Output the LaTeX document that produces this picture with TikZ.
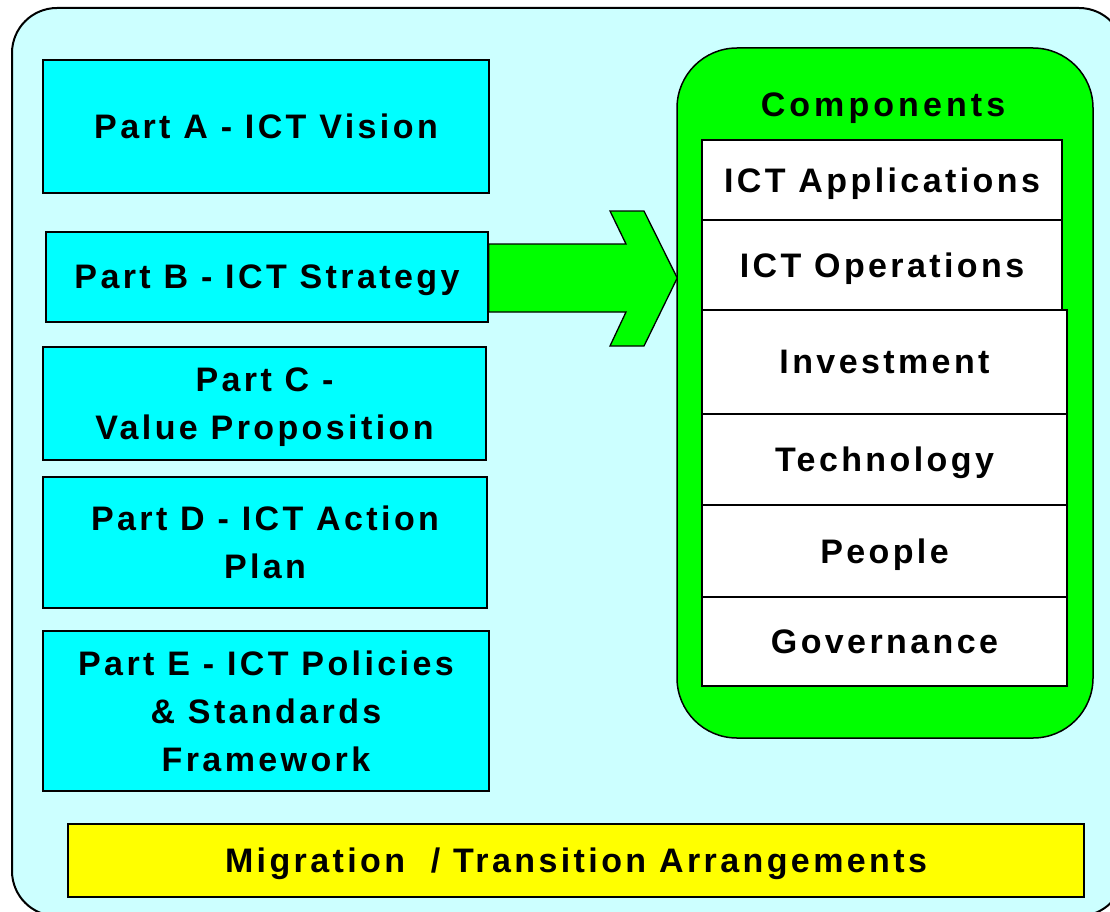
\documentclass[tikz,border=0pt]{standalone}
\usepackage{fontspec}
\setmainfont{Liberation Sans}
\newfontfamily\lblfont{Liberation Sans}[LetterSpace=10]
\definecolor{bgcyan}{HTML}{CCFFFF}
\definecolor{partcyan}{HTML}{00FFFF}
\definecolor{compgreen}{HTML}{00FF00}
\definecolor{migyellow}{HTML}{FFFF00}
\begin{document}
\begin{tikzpicture}[x=1pt,y=-1pt,
  lbl/.style={font=\lblfont\bfseries\fontsize{34}{48}\selectfont, align=center, inner sep=0pt, text depth=0pt},
  partbox/.style={lbl, draw=black, line width=1.5pt, fill=partcyan, rectangle},
  cellbox/.style={lbl, draw=black, line width=1.3pt, fill=white, rectangle},
  migbox/.style={lbl, draw=black, line width=1.5pt, fill=migyellow, rectangle},
  compbox/.style={draw=black, line width=1.5pt, fill=compgreen, rectangle, rounded corners=60pt, inner sep=0pt},
  bigarrow/.style={draw=black, line width=1.3pt, fill=compgreen, line join=miter},
  outerbox/.style={draw=black, line width=2pt, fill=bgcyan, rounded corners=45pt}]
\useasboundingbox (0,0) rectangle (1110,912);
\begin{scope}
  \clip (0,0) rectangle (1110,912);
  \fill[white] (0,0) rectangle (1110,912);
  \draw[outerbox] (12,8) rectangle (1124,916);
\end{scope}
% left parts
\node[partbox, minimum width=446pt, minimum height=133pt] (A) at (266,126.5) {Part A - ICT Vision};
\node[partbox, minimum width=442pt, minimum height=90pt] (B) at (267,277) {Part B - ICT Strategy};
\node[partbox, minimum width=443pt, minimum height=113pt] (C) at (264.5,403.5) {Part C -\\Value Proposition};
\node[partbox, minimum width=444pt, minimum height=131pt] (D) at (265,542.5) {Part D - ICT Action\\Plan};
\node[partbox, minimum width=446pt, minimum height=160pt] (E) at (266,711) {Part E - ICT Policies\\\& Standards\\Framework};
% migration
\node[migbox, minimum width=1016pt, minimum height=73pt] (M) at (576,860.5) {Migration~~/ Transition Arrangements};
% components
\node[compbox, minimum width=416pt, minimum height=690pt] (comp) at (885,393) {};
\node[lbl, anchor=base, font=\lblfont\bfseries\addfontfeatures{LetterSpace=12}\fontsize{34}{48}\selectfont] (ctitle) at (883,117) {Components};
\node[cellbox, minimum width=360pt, minimum height=80pt] (app) at (882,180) {ICT Applications};
\node[cellbox, minimum width=360pt, minimum height=90pt] (ops) at (882,265) {ICT Operations};
\node[cellbox, minimum width=365pt, minimum height=104pt] (inv) at (884.5,362) {Investment};
\node[cellbox, minimum width=365pt, minimum height=91pt] (tech) at (884.5,459.5) {Technology};
\node[cellbox, minimum width=365pt, minimum height=92pt] (ppl) at (884.5,551) {People};
\node[cellbox, minimum width=365pt, minimum height=89pt] (gov) at (884.5,641.5) {Governance};
% block arrow from Part B to Components
\coordinate (tip) at (comp.west |- 0,278);
\draw[bigarrow] ([yshift=33pt]B.east) -- (626,244) -- (610,211) -- (644,211) -- ([xshift=1pt]tip)
  -- (644,346) -- (610,346) -- (626,312) -- ([yshift=-35pt]B.east) -- cycle;
\end{tikzpicture}
\end{document}
